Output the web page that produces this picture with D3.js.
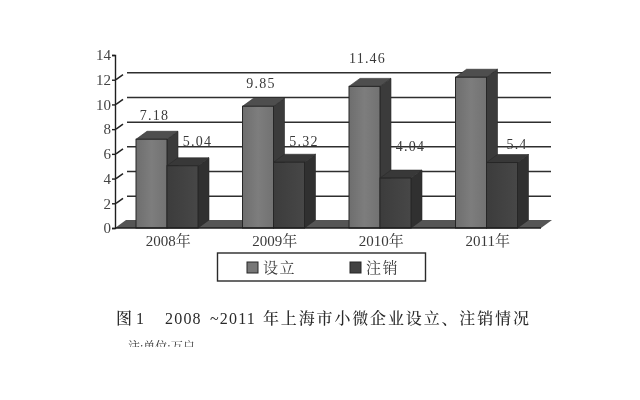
<!DOCTYPE html>
<html>
<head>
<meta charset="utf-8">
<script src="https://cdn.jsdelivr.net/npm/d3@7"></script>
<style>
html, body { margin: 0; background: #fff; }
svg { display: block; filter: blur(0.45px); }
text { font-family: "Liberation Serif", "Noto Serif CJK SC", "Noto Sans CJK SC", serif; fill: #3a3a3a; }
</style>
</head>
<body>
<svg id="chart" width="640" height="400"></svg>
<script>
// values
let years = ["2008年", "2009年", "2010年", "2011年"];
let seriesNames = ["设立", "注销"];
let setUp = [7.18, 9.85, 11.46, 12.2];
let cancelled = [5.04, 5.32, 4.04, 5.3];
let setUpLabels = ["7.18", "9.85", "11.46", ""];
let cancelledLabels = ["5.04", "5.32", "4.04", "5.4"];
let yTicks = [0, 2, 4, 6, 8, 10, 12, 14];
let captionYears = "2008 ~2011";
let captionText = "年上海市小微企业设立、注销情况";
let note = "注:单位:万户";

// how far each value label floats over its bar
let setUpLift = [19, 18, 23, 0];
let cancelledLift = [20, 16, 27, 14];

let svg = d3.select("#chart");

let dx = 11, dy = -8;   // depth of the 3d box

let x = d3.scaleBand().domain(years).range([115, 541]).paddingInner(0).paddingOuter(0);
let xSeries = d3.scaleBand().domain(seriesNames).range([21, 83]);
let y = d3.scaleLinear().domain([0, 14]).range([228, 55]);

let defs = svg.append("defs");
let grad = defs.append("linearGradient").attr("id", "frontLight");
grad.append("stop").attr("offset", "0%").attr("stop-color", "#6e6e6e");
grad.append("stop").attr("offset", "50%").attr("stop-color", "#7d7d7d");
grad.append("stop").attr("offset", "100%").attr("stop-color", "#727272");
let gradDark = defs.append("linearGradient").attr("id", "frontDark");
gradDark.append("stop").attr("offset", "0%").attr("stop-color", "#3c3c3c");
gradDark.append("stop").attr("offset", "100%").attr("stop-color", "#474747");
defs.append("clipPath").attr("id", "noteClip")
    .append("rect").attr("x", 0).attr("y", 330).attr("width", 640).attr("height", 17);

// -------------------- GRID AND FLOOR -------------------- //

let grid = svg.append("g");
yTicks.filter(d => d > 0 && d < 14).forEach(d => {
    grid.append("line")
        .attr("x1", x.range()[0] + dx + 1).attr("x2", x.range()[1] + dx - 1)
        .attr("y1", y(d) + dy + 1).attr("y2", y(d) + dy + 1)
        .attr("stroke", "#2e2e2e").attr("stroke-width", 1.5);
    grid.append("line")
        .attr("x1", x.range()[0] + 1).attr("x2", x.range()[0] + dx - 3)
        .attr("y1", y(d)).attr("y2", y(d) + dy + 3)
        .attr("stroke", "#222").attr("stroke-width", 1.5);
});

let floor = d3.path();
floor.moveTo(x.range()[0], y(0));
floor.lineTo(x.range()[0] + dx, y(0) + dy);
floor.lineTo(x.range()[1] + dx, y(0) + dy);
floor.lineTo(x.range()[1], y(0));
floor.closePath();
svg.append("path").attr("d", floor.toString()).attr("fill", "#555");

// -------------------- BARS -------------------- //

function box(g, x0, w, v, front, top, side) {
    let top0 = y(v), base = y(0);
    g.append("polygon")
        .attr("points", [[x0 + w, top0], [x0 + w + dx, top0 + dy], [x0 + w + dx, base + dy], [x0 + w, base]].join(" "))
        .attr("fill", side).attr("stroke", "#2a2a2a").attr("stroke-width", 0.6);
    g.append("polygon")
        .attr("points", [[x0, top0], [x0 + dx, top0 + dy], [x0 + w + dx, top0 + dy], [x0 + w, top0]].join(" "))
        .attr("fill", top).attr("stroke", "#2a2a2a").attr("stroke-width", 0.6);
    g.append("rect")
        .attr("x", x0).attr("y", top0).attr("width", w).attr("height", base - top0)
        .attr("fill", front).attr("stroke", "#262626").attr("stroke-width", 1);
}

let bars = svg.append("g");
years.forEach((yr, i) => {
    let g = bars.append("g");
    box(g, x(yr) + xSeries(seriesNames[0]), xSeries.bandwidth(), setUp[i], "url(#frontLight)", "#4e4e4e", "#3b3b3b");
    box(g, x(yr) + xSeries(seriesNames[1]), xSeries.bandwidth(), cancelled[i], "url(#frontDark)", "#383838", "#303030");
});

// -------------------- AXES -------------------- //

let yAxis = d3.axisLeft(y).tickValues(yTicks).tickSize(3).tickPadding(1);
let yG = svg.append("g").attr("transform", "translate(115,0)").call(yAxis);
yG.selectAll("path, line").attr("stroke", "#1e1e1e").attr("stroke-width", 1.4);
yG.selectAll("text").attr("font-size", 15).attr("font-family", "Liberation Serif").style("fill", "#444");

svg.append("line")
    .attr("x1", x.range()[0]).attr("x2", x.range()[1])
    .attr("y1", y(0)).attr("y2", y(0))
    .attr("stroke", "#1e1e1e").attr("stroke-width", 1.6);

svg.selectAll(".year").data(years).enter().append("text")
    .attr("class", "year")
    .attr("x", d => x(d) + x.bandwidth() / 2)
    .attr("y", 246)
    .attr("text-anchor", "middle")
    .attr("font-size", 15)
    .text(d => d);

// -------------------- VALUE LABELS -------------------- //

years.forEach((yr, i) => {
    svg.append("text")
        .attr("x", x(yr) + xSeries(seriesNames[0]) + xSeries.bandwidth() / 2 + 3)
        .attr("y", y(setUp[i]) - setUpLift[i])
        .attr("text-anchor", "middle").attr("font-size", 14).attr("letter-spacing", 1.2)
        .text(setUpLabels[i]);
    svg.append("text")
        .attr("x", x(yr) + xSeries(seriesNames[1]) + xSeries.bandwidth() / 2 + 15)
        .attr("y", y(cancelled[i]) - cancelledLift[i])
        .attr("text-anchor", "middle").attr("font-size", 14).attr("letter-spacing", 1.2)
        .text(cancelledLabels[i]);
});

// -------------------- LEGEND -------------------- //

svg.append("rect").attr("x", 217.5).attr("y", 253).attr("width", 208).attr("height", 28)
    .attr("fill", "#fff").attr("stroke", "#2a2a2a").attr("stroke-width", 1.4);

let legendX = d3.scaleOrdinal().domain(seriesNames).range([247, 350]);
let legendFill = d3.scaleOrdinal().domain(seriesNames).range(["#777", "#424242"]);
seriesNames.forEach(name => {
    svg.append("rect").attr("x", legendX(name)).attr("y", 262).attr("width", 11).attr("height", 11)
        .attr("fill", legendFill(name)).attr("stroke", "#262626").attr("stroke-width", 1);
    svg.append("text").attr("x", legendX(name) + 16).attr("y", 273)
        .attr("font-size", 15).attr("letter-spacing", 1.5).text(name);
});

// -------------------- CAPTION -------------------- //

svg.append("text").attr("x", 116).attr("y", 324).attr("font-size", 16).attr("font-weight", 500)
    .style("fill", "#2a2a2a").text("图 1");
svg.append("text").attr("x", 165).attr("y", 324).attr("font-size", 16).attr("letter-spacing", 1.2).attr("word-spacing", 3)
    .style("fill", "#2a2a2a").text(captionYears);
svg.append("text").attr("x", 263).attr("y", 324).attr("font-size", 16).attr("letter-spacing", 1.85).attr("font-weight", 500)
    .style("fill", "#2a2a2a").text(captionText);
svg.append("text").attr("x", 128).attr("y", 351).attr("font-size", 12).attr("clip-path", "url(#noteClip)").text(note);
</script>
</body>
</html>
